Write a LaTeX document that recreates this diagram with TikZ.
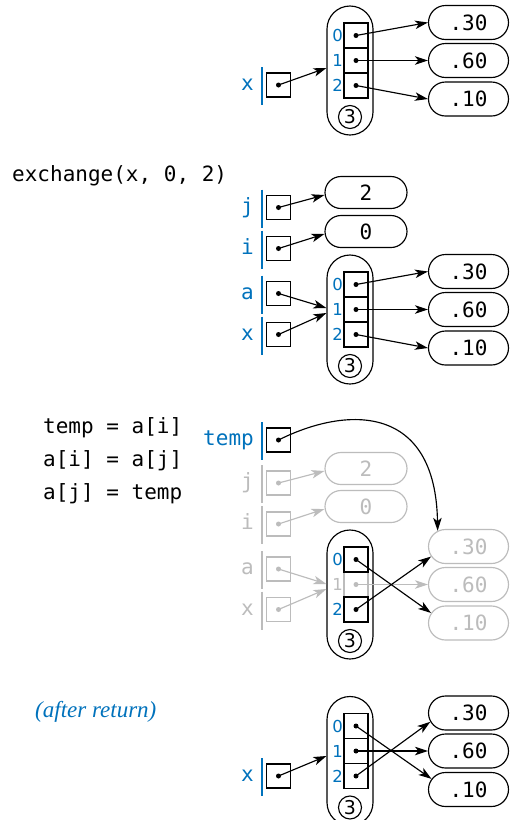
\documentclass[tikz,border=0pt]{standalone}
\usepackage{fontspec}
\usetikzlibrary{arrows.meta,shapes.misc,calc}
\newfontfamily\monof{DejaVu Sans Mono}
\newfontfamily\sansf{DejaVu Sans}
\newfontfamily\seriff{Liberation Serif}
\definecolor{refblue}{RGB}{0,114,188}
\definecolor{fade}{RGB}{188,188,188}

\tikzset{
  lw/.style={line width=1.15pt},
  monotext/.style={font=\monof\fontsize{21}{21}\selectfont},
  cell/.style={draw, lw, rectangle, minimum width=24pt, minimum height=25pt, inner sep=0pt},
  ptrbox/.style={draw, lw, rectangle, minimum size=24pt, inner sep=0pt},
  pill/.style={draw, lw, rectangle, rounded corners=23pt, minimum width=46pt, minimum height=129pt, inner sep=0pt},
  val/.style={draw, lw, rounded rectangle, minimum width=80pt, minimum height=34pt, inner sep=0pt, monotext},
  num/.style={draw, lw, circle, minimum size=23pt, inner sep=0pt, font=\sansf\fontsize{19}{19}\selectfont},
  idx/.style={inner sep=0pt, font=\sansf\fontsize{16.5}{16.5}\selectfont},
  varname/.style={anchor=base east, inner sep=0pt, monotext},
  code/.style={anchor=base west, inner sep=0pt, monotext},
  ptr/.style={lw, -{Stealth[length=13pt,width=8.5pt,inset=3.5pt]}},
  dot/.style={circle, inner sep=0pt, minimum size=5pt},
}

% a named pointer variable: node name, label, centre y, label colour, box colour
\newcommand\varslot[5]{%
  \node[varname, text=#4] (#1l) at (254,{#3+5.5}) {#2};
  \draw[lw, draw=#4] (262,{#3-18}) -- (262,{#3+20});
  \node[ptrbox, draw=#5] (#1) at (278.5,#3) {};
  \node[dot, fill=#5] (#1d) at (#1.center) {};
}

% the array object: prefix, y of the middle cell,
% colour of the middle cell, colour of its index
\newcommand\arrblock[4]{%
  \node[pill] (#1) at (350,{#2+10}) {};
  \node[cell, draw=#3] (#11) at (356,#2) {};
  \node[cell] (#10) at (356,{#2-25}) {};
  \node[cell] (#12) at (356,{#2+25}) {};
  \node[dot, fill] (#10d) at (#10.center) {};
  \node[dot, fill=#3] (#11d) at (#11.center) {};
  \node[dot, fill] (#12d) at (#12.center) {};
  \node[idx, text=refblue] (#1i0) at (337.5,{#2-25}) {0};
  \node[idx, text=#4] (#1i1) at (337.5,#2) {1};
  \node[idx, text=refblue] (#1i2) at (337.5,{#2+25}) {2};
  \node[num] (#1n) at (350,{#2+56.5}) {3};
}

% the three double values: prefix, y of the middle one, colour
\newcommand\valblock[3]{%
  \node[val, draw=#3, text=#3] (#1a) at (468.5,{#2-38}) {.30};
  \node[val, draw=#3, text=#3] (#1b) at (468.5,#2) {.60};
  \node[val, draw=#3, text=#3] (#1c) at (468.5,{#2+38.5}) {.10};
}

\begin{document}
\begin{tikzpicture}[x=1pt,y=-1pt]
\fill[white] (0,0) rectangle (516,820);
\useasboundingbox (0,0) rectangle (516,820);

% ---- before the call ----
\varslot{xA}{x}{85}{refblue}{black}
\arrblock{A}{60.5}{black}{refblue}
\valblock{A}{60.5}{black}
\draw[ptr] (xAd.center) -- ([yshift=2.5pt]A.west);
\draw[ptr] (A0d.center) -- (Aa.west);
\draw[ptr] (A1d.center) -- (Ab.west);
\draw[ptr] (A2d.center) -- (Ac.west);

% ---- inside exchange ----
\node[code] (call) at (12,181) {exchange(x, 0, 2)};
\varslot{jB}{j}{207.5}{refblue}{black}
\varslot{iB}{i}{248.5}{refblue}{black}
\varslot{aB}{a}{293.5}{refblue}{black}
\varslot{xB}{x}{334.5}{refblue}{black}
\node[val, minimum width=82pt, minimum height=32pt] (jBv) at (366,192.5) {2};
\node[val, minimum width=82pt, minimum height=32pt] (iBv) at (366,231.5) {0};
\arrblock{B}{309.5}{black}{refblue}
\valblock{B}{309.5}{black}
\draw[ptr] (jBd.center) -- ([yshift=-2.5pt]jBv.west);
\draw[ptr] (iBd.center) -- ([yshift=-2.5pt]iBv.west);
\draw[ptr] (aBd.center) -- ([yshift=11.5pt]B.west);
\draw[ptr] (xBd.center) -- ([yshift=6.5pt]B.west);
\draw[ptr] (B0d.center) -- (Ba.west);
\draw[ptr] (B1d.center) -- (Bb.west);
\draw[ptr] (B2d.center) -- (Bc.west);

% ---- the swap ----
\node[code] (s1) at (43,433) {temp = a[i]};
\node[code] (s2) at (43,466) {a[i] = a[j]};
\node[code] (s3) at (43,499) {a[j] = temp};
\varslot{tC}{temp}{440}{refblue}{black}
\varslot{jC}{j}{483}{fade}{fade}
\varslot{iC}{i}{524}{fade}{fade}
\varslot{aC}{a}{569}{fade}{fade}
\varslot{xC}{x}{609.5}{fade}{fade}
\node[val, draw=fade, text=fade, minimum width=82pt, minimum height=32pt] (jCv) at (366,468.5) {2};
\node[val, draw=fade, text=fade, minimum width=82pt, minimum height=32pt] (iCv) at (366,506.5) {0};
\valblock{C}{584.5}{fade}
\arrblock{C}{584.5}{fade}{fade}
\draw[ptr, draw=fade] (jCd.center) -- ([yshift=-2.5pt]jCv.west);
\draw[ptr, draw=fade] (iCd.center) -- ([yshift=-2.5pt]iCv.west);
\draw[ptr, draw=fade] (aCd.center) -- ([yshift=10.5pt]C.west);
\draw[ptr, draw=fade] (xCd.center) -- ([yshift=5.5pt]C.west);
\draw[ptr, draw=fade] (C1d.center) -- (Cb.west);
\draw[ptr] (C0d.center) -- (Cc.165);
\draw[ptr] (C2d.center) -- (Ca.195);
\draw[ptr] (tCd.center) .. controls +(70,-35) and +(-2,-126) .. (Ca.153);

% ---- after return ----
\node[anchor=base west, inner sep=0pt, text=refblue,
      font=\seriff\itshape\fontsize{23}{23}\selectfont] (ret) at (35,717) {(after return)};
\varslot{xD}{x}{776}{refblue}{black}
\arrblock{D}{751}{black}{refblue}
\valblock{D}{751}{black}
\draw[ptr] (xDd.center) -- ([yshift=5pt]D.west);
\draw[ptr] (D0d.center) -- (Dc.164);
\draw[ptr] (D1d.center) -- (Db.west);
\draw[ptr] (D2d.center) -- (Da.193);
\end{tikzpicture}
\end{document}
